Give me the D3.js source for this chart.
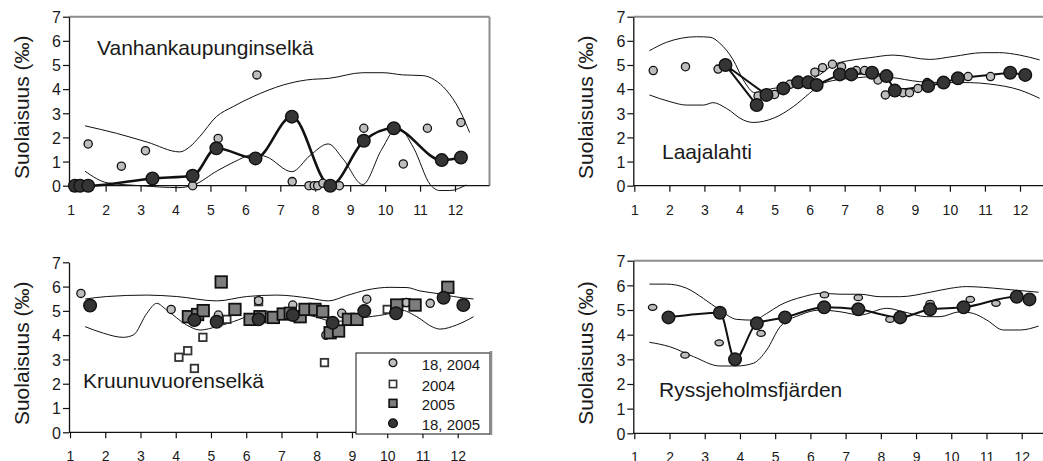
<!DOCTYPE html>
<html>
<head>
<meta charset="utf-8">
<script src="https://cdn.jsdelivr.net/npm/d3@7"></script>
<style>
  body { margin: 0; background: #fff; }
  svg { display: block; }
  text { font-family: "Liberation Sans", Arial, sans-serif; fill: #1a1a1a; }
</style>
</head>
<body>
<svg id="chart" width="1043" height="461"></svg>
<script>
// Month ticks and salinity ticks
const monthTicks = [1, 2, 3, 4, 5, 6, 7, 8, 9, 10, 11, 12];
const salinityTicks = [0, 1, 2, 3, 4, 5, 6, 7];
const yAxisTitle = "Suolaisuus (‰)";
const stationNames = ["Vanhankaupunginselkä", "Laajalahti", "Kruunuvuorenselkä", "Ryssjeholmsfjärden"];
const legendLabels = ["18, 2004", "2004", "2005", "18, 2005"];

// Vanhankaupunginselkä: [month, salinity ‰]
const vanUpper = [[1.41,2.48],[2.31,2.17],[3.2,1.8],[4.12,1.4],[4.4,1.6],[4.69,2.03],[5.17,2.86],[5.64,3.27],[6.22,3.69],[7.08,4.17],[7.75,4.38],[8.41,4.45],[9.36,4.68],[9.94,4.68],[10.5,4.59],[11.08,4.56],[11.42,4.38],[11.75,3.96],[12.13,3.14],[12.42,2.2]];
const vanLower = [[1.41,0.6],[2.05,0.12],[3.0,0.0],[4.1,-0.08],[4.5,0.02],[5.2,0.62],[5.7,1.0],[6.26,1.3],[6.6,1.2],[7.33,0.58],[7.85,1.25],[8.37,1.73],[8.8,1.1],[9.36,0.05],[9.9,1.5],[10.36,2.42],[10.82,1.55],[11.29,0.05],[11.57,-0.2],[11.85,-0.2],[12.32,0.03]];
const van18_2004 = [[1.5,1.73],[2.45,0.81],[3.14,1.45],[4.49,0.0],[5.22,1.96],[6.33,4.59],[7.34,0.17],[7.82,0.0],[7.97,0.0],[8.07,0.0],[8.22,0.1],[8.69,0.0],[9.39,2.38],[10.52,0.9],[11.21,2.38],[12.17,2.62]];
const van18_2005 = [[1.12,0.0],[1.27,0.0],[1.5,0.0],[3.34,0.3],[4.49,0.41],[5.17,1.55],[6.29,1.13],[7.33,2.86],[8.43,0.0],[9.39,1.86],[10.25,2.38],[11.62,1.06],[12.17,1.17]];

// Laajalahti
const laaUpper = [[1.43,5.59],[1.92,5.94],[2.78,6.17],[3.16,6.15],[3.44,5.9],[3.82,5.21],[4.11,4.38],[4.44,3.85],[4.96,4.03],[5.34,4.1],[5.81,4.24],[6.29,4.6],[6.67,5.0],[7.24,5.21],[7.71,5.3],[8.38,5.41],[9.42,5.23],[10.09,5.35],[10.94,5.51],[11.42,5.51],[11.99,5.41],[12.56,5.21]];
const laaLower = [[1.43,3.76],[2.02,3.48],[2.49,3.34],[2.97,3.34],[3.25,3.44],[3.63,3.2],[4.11,2.72],[4.39,2.62],[4.96,2.79],[5.53,3.27],[6.0,3.83],[6.29,4.17],[6.76,4.38],[7.24,4.45],[7.81,4.52],[8.28,4.49],[9.14,4.31],[9.9,4.27],[10.56,4.27],[11.13,4.21],[12.0,3.96],[12.56,3.62]];
const laa18_2004 = [[1.54,4.77],[2.46,4.93],[3.39,4.83],[4.53,3.72],[5.0,3.78],[5.44,4.2],[6.15,4.7],[6.37,4.89],[6.65,5.03],[6.91,4.93],[7.33,4.77],[7.57,4.77],[7.95,4.38],[8.16,3.76],[8.66,3.85],[8.85,3.85],[9.09,4.03],[9.35,4.27],[10.52,4.52],[11.16,4.52]];
// sampling order (not sorted by month)
const laa18_2005 = [[4.49,3.34],[3.6,5.0],[4.77,3.76],[5.25,4.03],[5.67,4.28],[5.96,4.28],[6.2,4.17],[6.86,4.61],[7.19,4.61],[7.78,4.68],[8.19,4.54],[8.43,3.94],[9.38,4.13],[9.82,4.27],[10.23,4.45],[11.72,4.68],[12.15,4.59]];

// Kruunuvuorenselkä
const kruUpper = [[1.43,5.49],[2.04,5.59],[3.18,5.65],[4.03,5.59],[5.16,5.41],[6.01,5.59],[6.87,5.65],[7.81,5.52],[8.33,5.41],[8.85,5.63],[9.42,5.86],[10.08,5.97],[10.56,5.96],[10.93,5.82],[11.5,5.7],[11.88,5.59],[12.45,5.49]];
const kruLower = [[1.43,4.35],[1.95,4.08],[2.51,3.91],[2.8,4.01],[3.18,4.9],[3.46,5.31],[3.74,5.04],[4.31,4.42],[4.69,4.21],[5.16,4.35],[5.64,4.56],[6.2,4.83],[6.87,4.9],[7.43,4.9],[8.0,4.74],[8.47,4.56],[8.95,4.63],[9.42,4.74],[10.08,4.9],[10.37,5.04],[10.84,4.76],[11.31,4.32],[11.5,4.25],[11.97,4.42],[12.45,4.76]];
const kru18_2004 = [[1.31,5.72],[3.87,5.06],[5.21,4.83],[6.35,5.42],[7.32,5.24],[8.26,4.0],[8.71,4.9],[9.42,5.48],[10.54,5.34],[11.22,5.31]];
const kru2004 = [[4.09,3.09],[4.34,3.36],[4.53,2.63],[4.77,3.91],[5.45,4.65],[6.35,5.38],[8.22,2.87],[10.0,5.06],[10.54,5.34]];
const kru2005 = [[4.36,4.76],[4.62,4.85],[4.78,5.01],[5.29,6.19],[5.68,5.06],[6.11,4.65],[6.39,4.76],[6.77,4.73],[7.05,4.87],[7.25,4.9],[7.53,4.76],[7.67,5.06],[7.95,5.06],[8.17,4.97],[8.38,4.1],[8.62,4.17],[8.9,4.65],[9.14,4.65],[10.27,5.24],[10.79,5.24],[11.72,5.97]];
const kru18_2005 = [[1.57,5.22],[4.53,4.62],[5.16,4.55],[6.35,4.65],[7.32,4.83],[8.45,4.51],[9.35,4.99],[10.25,4.9],[11.6,5.54],[12.16,5.24]];

// Ryssjeholmsfjärden
const ryUpper = [[1.43,6.05],[1.92,6.05],[2.49,5.88],[2.96,5.47],[3.43,5.0],[3.91,4.62],[4.38,4.59],[4.76,4.86],[5.14,5.2],[5.8,5.54],[6.32,5.68],[6.84,5.64],[7.41,5.64],[7.98,5.54],[8.55,5.54],[9.4,5.72],[9.97,5.88],[10.44,5.95],[10.91,5.92],[11.48,5.85],[12.48,5.72]];
const ryLower = [[1.43,3.69],[2.01,3.51],[2.68,3.11],[3.43,2.73],[3.91,2.73],[4.38,2.84],[4.76,3.38],[5.14,4.32],[5.71,4.8],[6.27,5.0],[6.84,4.93],[7.41,4.8],[8.17,5.07],[8.64,4.93],[9.3,4.73],[9.68,4.73],[10.25,4.93],[10.63,4.86],[11.01,4.59],[11.48,4.19],[11.96,4.19],[12.48,4.35]];
const ry18_2004 = [[1.52,5.11],[2.44,3.17],[3.41,3.67],[4.6,4.05],[6.4,5.61],[7.36,5.5],[8.26,4.62],[9.4,5.27],[10.54,5.43],[11.27,5.27]];
const ry18_2005 = [[1.97,4.7],[3.43,4.89],[3.86,3.0],[4.48,4.46],[5.28,4.7],[6.39,5.11],[7.36,5.03],[8.55,4.7],[9.4,5.03],[10.35,5.11],[11.86,5.54],[12.22,5.43]];

const panels = [
  { name: stationNames[0], upper: vanUpper, lower: vanLower, grey: van18_2004, dark: van18_2005,
    x1: 70.7, x12: 455, yb: 185.7, yt: 16.7, axisX: 69, right: 489.5, frame: "box",
    curve: d3.curveMonotoneX, lineW: 2.6, title: [97, 55], greyShape: "circle" },
  { name: stationNames[1], upper: laaUpper, lower: laaLower, grey: laa18_2004, dark: laa18_2005,
    x1: 634.3, x12: 1020, yb: 185.7, yt: 16.7, axisX: 633.3, right: 1043, frame: "top",
    curve: d3.curveLinear, lineW: 2, title: [662, 159], greyShape: "circle" },
  { name: stationNames[2], upper: kruUpper, lower: kruLower, grey: kru18_2004, dark: kru18_2005,
    open: kru2004, filled: kru2005,
    x1: 70, x12: 457.7, yb: 432.3, yt: 262.3, axisX: 69, right: 492, frame: "none",
    curve: null, lineW: 0, title: [83, 388], greyShape: "circle", legend: true },
  { name: stationNames[3], upper: ryUpper, lower: ryLower, grey: ry18_2004, dark: ry18_2005,
    x1: 634.3, x12: 1021.7, yb: 433.3, yt: 260.7, axisX: 633.3, right: 1043, frame: "top",
    curve: d3.curveMonotoneX, lineW: 2, title: [659, 397], greyShape: "ellipse" }
];

const svg = d3.select("#chart");
const GREY = "#bdbdbd", DARK = "#353535", MID = "#7d7d7d", INK = "#111";

function drawPanel(p) {
  const g = svg.append("g");
  const x = d3.scaleLinear().domain([1, 12]).range([p.x1, p.x12]);
  const y = d3.scaleLinear().domain([0, 7]).range([p.yb, p.yt]);

  // frame
  if (p.frame === "box" || p.frame === "top") {
    g.append("line").attr("x1", p.axisX).attr("x2", p.right).attr("y1", p.yt).attr("y2", p.yt)
      .attr("stroke", "#8c8c8c").attr("stroke-width", 2);
  }
  if (p.frame === "box") {
    g.append("line").attr("x1", p.right).attr("x2", p.right).attr("y1", p.yt).attr("y2", p.yb)
      .attr("stroke", "#8c8c8c").attr("stroke-width", 2);
  }

  // axes
  const ya = g.append("g").attr("transform", `translate(${p.axisX},0)`)
    .call(d3.axisLeft(y).tickValues(salinityTicks).tickFormat(d3.format("d")).tickSize(6).tickSizeOuter(0));
  ya.select(".domain").attr("stroke", INK).attr("stroke-width", 1.3);
  ya.selectAll(".tick line").attr("stroke", INK).attr("stroke-width", 1.2);
  ya.selectAll(".tick text").attr("x", -8).attr("dy", "0.36em")
    .style("font-size", "16px").style("font-family", '"Liberation Sans", Arial, sans-serif').attr("fill", "#1a1a1a");

  const xa = g.append("g").attr("transform", `translate(0,${p.yb})`)
    .call(d3.axisBottom(x).tickValues(monthTicks).tickFormat(d3.format("d")).tickSize(6).tickSizeOuter(0));
  xa.select(".domain").remove();
  xa.selectAll(".tick line").attr("stroke", INK).attr("stroke-width", 1.2);
  xa.selectAll(".tick text").attr("y", 29).attr("dy", 0)
    .style("font-size", "14px").style("font-family", '"Liberation Sans", Arial, sans-serif').attr("fill", "#1a1a1a");
  g.append("line").attr("x1", p.axisX).attr("x2", p.right).attr("y1", p.yb).attr("y2", p.yb)
    .attr("stroke", INK).attr("stroke-width", 1.3);

  // y title
  g.append("text")
    .attr("transform", `translate(${p.axisX - 40.5},${(p.yt + p.yb) / 2 + 6}) rotate(-90)`)
    .attr("text-anchor", "middle").style("font-size", "21px").text(yAxisTitle);

  // station name
  g.append("text").attr("x", p.title[0]).attr("y", p.title[1]).style("font-size", "21px").text(p.name);

  // envelopes
  const env = d3.line().x(d => x(d[0])).y(d => y(d[1])).curve(d3.curveMonotoneX);
  [p.upper, p.lower].forEach(arr => {
    g.append("path").attr("d", env(arr)).attr("fill", "none").attr("stroke", "#111").attr("stroke-width", 1);
  });

  // connecting line for 18, 2005
  if (p.curve) {
    const ln = d3.line().x(d => x(d[0])).y(d => y(d[1])).curve(p.curve);
    g.append("path").attr("d", ln(p.dark)).attr("fill", "none").attr("stroke", "#111")
      .attr("stroke-width", p.lineW).attr("stroke-linejoin", "round");
  }

  // open squares 2004
  if (p.open) {
    const s = 7.5;
    g.selectAll(".open").data(p.open).enter().append("rect")
      .attr("x", d => x(d[0]) - s / 2).attr("y", d => y(d[1]) - s / 2).attr("width", s).attr("height", s)
      .attr("fill", "#fff").attr("stroke", "#333").attr("stroke-width", 1.8);
  }

  // grey markers 18, 2004
  if (p.greyShape === "ellipse") {
    g.selectAll(".grey").data(p.grey).enter().append("ellipse")
      .attr("cx", d => x(d[0])).attr("cy", d => y(d[1])).attr("rx", 4.2).attr("ry", 3)
      .attr("fill", GREY).attr("stroke", INK).attr("stroke-width", 1.3);
  } else {
    g.selectAll(".grey").data(p.grey).enter().append("circle")
      .attr("cx", d => x(d[0])).attr("cy", d => y(d[1])).attr("r", 4.1)
      .attr("fill", GREY).attr("stroke", INK).attr("stroke-width", 1.3);
  }

  // filled squares 2005
  if (p.filled) {
    const s = 11.5;
    g.selectAll(".filled").data(p.filled).enter().append("rect")
      .attr("x", d => x(d[0]) - s / 2).attr("y", d => y(d[1]) - s / 2).attr("width", s).attr("height", s)
      .attr("fill", MID).attr("stroke", INK).attr("stroke-width", 1.8);
  }

  // dark circles 18, 2005
  g.selectAll(".dark").data(p.dark).enter().append("circle")
    .attr("cx", d => x(d[0])).attr("cy", d => y(d[1])).attr("r", 6.3)
    .attr("fill", DARK).attr("stroke", INK).attr("stroke-width", 1.4);

  if (p.legend) drawLegend(g);
}

function drawLegend(g) {
  const lx = 356, ly = 353, lw = 134, lh = 81;
  g.append("rect").attr("x", lx).attr("y", ly).attr("width", lw).attr("height", lh)
    .attr("fill", "#fff").attr("stroke", INK).attr("stroke-width", 1);
  g.append("line").attr("x1", lx + lw + 1).attr("x2", lx + lw + 1).attr("y1", ly - 2).attr("y2", ly + lh + 1)
    .attr("stroke", "#8c8c8c").attr("stroke-width", 2.5);
  const rows = [362.7, 384, 403.3, 423.3];
  const sx = 393;
  const items = g.selectAll(".leg").data(legendLabels).enter().append("g")
    .attr("transform", (d, i) => `translate(${sx},${rows[i]})`);
  items.each(function (d, i) {
    const it = d3.select(this);
    if (i === 0) it.append("circle").attr("r", 3.9).attr("fill", GREY).attr("stroke", INK).attr("stroke-width", 1.3);
    if (i === 1) it.append("rect").attr("x", -3.6).attr("y", -3.6).attr("width", 7.2).attr("height", 7.2)
      .attr("fill", "#fff").attr("stroke", "#333").attr("stroke-width", 1.6);
    if (i === 2) it.append("rect").attr("x", -3.9).attr("y", -3.9).attr("width", 7.8).attr("height", 7.8)
      .attr("fill", MID).attr("stroke", INK).attr("stroke-width", 1.6);
    if (i === 3) it.append("circle").attr("r", 4.4).attr("fill", DARK).attr("stroke", INK).attr("stroke-width", 1.3);
    it.append("text").attr("x", 28.7).attr("y", 7).style("font-size", "15px").text(d);
  });
}

panels.forEach(drawPanel);
</script>
</body>
</html>
